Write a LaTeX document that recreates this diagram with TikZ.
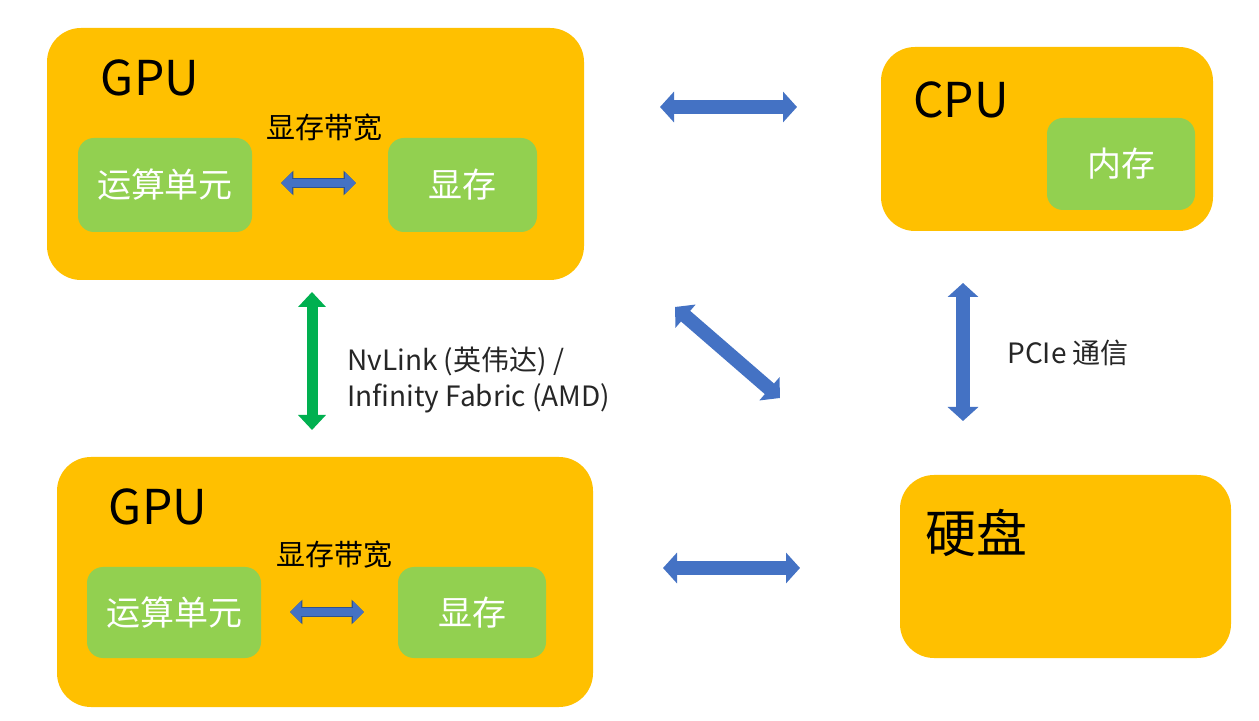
\documentclass[tikz,border=0pt]{standalone}
\usepackage{fontspec}
\setmainfont{Noto Sans CJK SC}
\usetikzlibrary{arrows.meta}
\definecolor{orng}{HTML}{FFC000}
\definecolor{grn}{HTML}{92D050}
\definecolor{blu}{HTML}{4472C4}
\definecolor{navy}{HTML}{2F528F}
\definecolor{dgreen}{HTML}{00B050}
\definecolor{txt}{HTML}{262626}
\begin{document}
\begin{tikzpicture}[x=0.5pt,y=-0.5pt,
  outerbox/.style={fill=orng, rounded corners=17pt, inner sep=0},
  innerbox/.style={fill=grn, rounded corners=8pt, text=white, inner sep=0, font=\fontsize{17}{19}\selectfont},
  titletext/.style={font=\fontsize{24}{28}\selectfont, inner sep=0},
  disktext/.style={font=\fontsize{25.5}{28}\selectfont, inner sep=0},
  bwtext/.style={font=\fontsize{14.5}{16}\selectfont, inner sep=0},
  labeltext/.style={font=\fontsize{14}{18}\selectfont, text=txt, inner sep=0, align=left, anchor=west},
  bigarrow/.style={draw=blu, line width=7pt, {Triangle[width=15pt,length=7pt]}-{Triangle[width=15pt,length=7pt]}},
  greenarrow/.style={draw=dgreen, line width=5.5pt, {Triangle[width=13.5pt,length=7.5pt]}-{Triangle[width=13.5pt,length=7.5pt]}},
  smallarrow/.style={draw=blu, line width=4.2pt, {Triangle[width=10.5pt,length=5.5pt]}-{Triangle[width=10.5pt,length=5.5pt]},
    preaction={draw=navy, line width=5.4pt, {Triangle[width=12pt,length=6.2pt]}-{Triangle[width=12pt,length=6.2pt]}}}
]
\useasboundingbox[fill=white] (0,0) rectangle (1259,721);

% GPU 1
\node[outerbox, minimum width=268.5pt, minimum height=126pt] (gpu1) at (315.5,154) {};
\node[titletext] (gpu1t) at (150,78) {GPU};
\node[innerbox, minimum width=87pt, minimum height=47pt] (alu1) at (165,185) {运算单元};
\node[innerbox, minimum width=74.5pt, minimum height=47pt] (mem1) at (462.5,185) {显存};
\node[bwtext] (bw1) at (324,128) {显存带宽};
\coordinate (s1a) at (281,183);
\coordinate (s1b) at (356,183);
\draw[smallarrow] (s1a) -- (s1b);

% GPU 2
\node[outerbox, minimum width=268pt, minimum height=125pt] (gpu2) at (325,582) {};
\node[titletext] (gpu2t) at (158,507) {GPU};
\node[innerbox, minimum width=87pt, minimum height=45.5pt] (alu2) at (174,612.5) {运算单元};
\node[innerbox, minimum width=74pt, minimum height=45.5pt] (mem2) at (472,612.5) {显存};
\node[bwtext] (bw2) at (334,555) {显存带宽};
\coordinate (s2a) at (290,612);
\coordinate (s2b) at (364,612);
\draw[smallarrow] (s2a) -- (s2b);

% CPU
\node[outerbox, minimum width=166pt, minimum height=92pt] (cpu) at (1047,139) {};
\node[titletext] (cput) at (961,100) {CPU};
\node[innerbox, minimum width=74pt, minimum height=46pt] (ram) at (1121,164) {内存};

% Disk
\node[outerbox, minimum width=165.5pt, minimum height=91.5pt] (disk) at (1065.5,566.5) {};
\node[disktext] (diskt) at (976,533) {硬盘};

% arrows
\coordinate (h1a) at (660,107);
\coordinate (h1b) at (797,107);
\draw[bigarrow] (h1a) -- (h1b);
\coordinate (h2a) at (663,568);
\coordinate (h2b) at (800,568);
\draw[bigarrow] (h2a) -- (h2b);
\coordinate (da) at (675,307);
\coordinate (db) at (780,398);
\draw[bigarrow] (da) -- (db);
\coordinate (va) at (963,283);
\coordinate (vb) at (963,421);
\draw[bigarrow] (va) -- (vb);
\coordinate (ga) at (312,292);
\coordinate (gb) at (312,430);
\draw[greenarrow] (ga) -- (gb);

\node[labeltext] (nvl) at (347,380) {NvLink (英伟达) /\\Infinity Fabric (AMD)};
\node[labeltext] (pcie) at (1007,353) {PCIe 通信};
\end{tikzpicture}
\end{document}
